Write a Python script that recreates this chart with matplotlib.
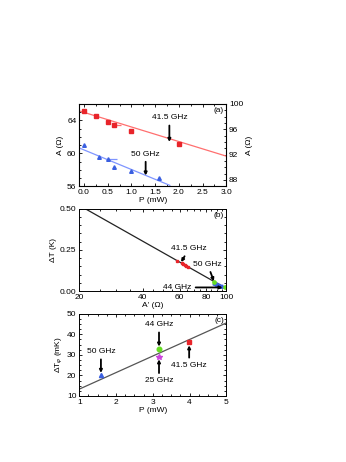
import matplotlib.pyplot as plt
import numpy as np
from matplotlib.ticker import MultipleLocator, FixedLocator, NullFormatter

plt.rcParams['font.family'] = ['Liberation Sans', 'DejaVu Sans']
plt.rcParams['font.size'] = 6
plt.rcParams['mathtext.fontset'] = 'custom'
plt.rcParams['mathtext.rm'] = 'Liberation Sans'
plt.rcParams['mathtext.it'] = 'Liberation Sans:italic'

# panel (a): A vs P
p_red = [0.0, 0.25, 0.5, 0.63, 1.0, 2.0]
a_red = [98.9, 98.1, 97.2, 96.6, 95.7, 93.7]      # right axis
p_red_err = [0, 0, 0, 0.16, 0, 0]
p_blue = [0.0, 0.31, 0.5, 0.63, 1.0, 1.59]
a_blue = [61.0, 59.6, 59.3, 58.3, 57.9, 56.95]    # left axis
p_blue_err = [0, 0, 0.19, 0, 0, 0]
fit_red_p = [-0.1, 3.0]
fit_red_a = [98.9, 91.75]
fit_blue_p = [-0.1, 1.81]
fit_blue_a = [60.65, 56.1]

# panel (b): dT vs A'
ap_red = [58.0, 61.5, 62.5, 63.5, 64.5, 65.5]
dt_red = [0.185, 0.168, 0.162, 0.156, 0.150, 0.145]
ap_blue = [87.5, 88.5, 89.5, 90.5, 91.5, 92.5, 93.5, 94.5, 95.5]
dt_blue = [0.052, 0.048, 0.045, 0.042, 0.039, 0.036, 0.033, 0.030, 0.028]
ap_green = [87.0, 99.0]
dt_green = [0.055, 0.022]
line_b_ap = [21.4, 100]
line_b_dt = [0.5, 0.016]

# panel (c): dT_phi vs P
p_c = [1.59, 3.17, 3.17, 3.99]
dtphi_c = [20.0, 32.6, 29.0, 36.0]
freq_c = ['50 GHz', '44 GHz', '25 GHz', '41.5 GHz']
line_c_p = [1, 5]
line_c_t = [13.3, 45.5]

RED = '#e8242a'
RED_L = '#ff6f6f'
BLUE = '#3a5fe0'
BLUE_L = '#7f95ff'
GREEN = '#66dd22'
MAG = '#cc44dd'

arr = dict(arrowstyle='-|>', color='k', lw=1.3, mutation_scale=4, shrinkA=1, shrinkB=0)

fig = plt.figure(figsize=(3.46, 4.62), dpi=100)
ax_a = fig.add_axes([0.229, 0.597, 0.425, 0.178])
ax_b = fig.add_axes([0.229, 0.370, 0.425, 0.178])
ax_c = fig.add_axes([0.229, 0.143, 0.425, 0.178])


def style(ax):
    ax.tick_params(which='both', direction='in', top=True, width=0.6, pad=2)
    ax.tick_params(which='major', length=2.5)
    ax.tick_params(which='minor', length=1.5)
    for s in ax.spines.values():
        s.set_linewidth(0.7)


# (a)
ax_a2 = ax_a.twinx()
ax_a.plot(fit_blue_p, fit_blue_a, color=BLUE_L, lw=0.9)
ax_a.errorbar(p_blue, a_blue, xerr=[[0] * len(p_blue), p_blue_err], fmt='^', ms=2.6,
              color=BLUE, ecolor=BLUE_L, elinewidth=0.9, capsize=0)
ax_a2.plot(fit_red_p, fit_red_a, color=RED_L, lw=0.9)
ax_a2.errorbar(p_red, a_red, xerr=[[0] * len(p_red), p_red_err], fmt='s', ms=2.4,
               color=RED, ecolor=RED_L, elinewidth=0.9, capsize=0)
ax_a.set_xlim(-0.1, 3.0)
ax_a.set_ylim(56, 66)
ax_a2.set_ylim(87, 100)
ax_a.set_xticks([0.0, 0.5, 1.0, 1.5, 2.0, 2.5, 3.0])
ax_a.set_xticklabels(['0.0', '0.5', '1.0', '1.5', '2.0', '2.5', '3.0'])
ax_a.xaxis.set_minor_locator(MultipleLocator(0.25))
ax_a.set_yticks([56, 60, 64])
ax_a.yaxis.set_minor_locator(MultipleLocator(1))
ax_a2.set_yticks([88, 92, 96, 100])
ax_a2.yaxis.set_minor_locator(MultipleLocator(1))
style(ax_a)
ax_a.tick_params(which='both', right=False)
ax_a2.tick_params(which='both', direction='in', width=0.6, pad=2)
ax_a2.tick_params(which='major', length=2.5)
ax_a2.tick_params(which='minor', length=1.5)
ax_a.set_xlabel('P (mW)', labelpad=1)
ax_a.set_ylabel('A (\u03a9)', labelpad=2)
ax_a2.set_ylabel('A (\u03a9)', labelpad=2)
ax_a2.annotate('41.5 GHz', xy=(1.8, 94.0), xytext=(1.8, 97.8), ha='center', va='center',
               arrowprops=arr)
ax_a.annotate('50 GHz', xy=(1.3, 57.3), xytext=(1.3, 59.9), ha='center', va='center',
              arrowprops=arr)
ax_a.text(0.985, 0.96, '(a)', transform=ax_a.transAxes, ha='right', va='top')

# (b)
ax_b.plot(line_b_ap, line_b_dt, color='#222222', lw=0.9)
ax_b.plot(ap_red, dt_red, 's', color=RED, ms=2.0)
ax_b.plot(ap_blue, dt_blue, '^', color=BLUE, ms=2.2)
ax_b.plot(ap_green, dt_green, 'o', color=GREEN, ms=2.4)
ax_b.set_xscale('log')
ax_b.set_xlim(20, 100)
ax_b.set_ylim(0, 0.5)
ax_b.xaxis.set_major_locator(FixedLocator([20, 40, 60, 80, 100]))
ax_b.xaxis.set_minor_locator(FixedLocator([25, 30, 35, 45, 50, 55, 65, 70, 75, 85, 90, 95]))
ax_b.xaxis.set_major_formatter(plt.FixedFormatter(['20', '40', '60', '80', '100']))
ax_b.xaxis.set_minor_formatter(NullFormatter())
ax_b.set_yticks([0.0, 0.25, 0.5])
ax_b.set_yticklabels(['0.00', '0.25', '0.50'])
ax_b.yaxis.set_minor_locator(MultipleLocator(0.05))
style(ax_b)
ax_b.tick_params(which='both', right=True)
ax_b.set_xlabel("A' (\u03a9)", labelpad=1)
ax_b.set_ylabel('\u0394T (K)', labelpad=2)
ax_b.annotate('41.5 GHz', xy=(61.0, 0.176), xytext=(66.5, 0.257), ha='center', va='center',
              arrowprops=arr)
ax_b.annotate('50 GHz', xy=(87.3, 0.060), xytext=(81.5, 0.162), ha='center', va='center',
              arrowprops=arr)
ax_b.annotate('44 GHz', xy=(96.0, 0.022), xytext=(58.5, 0.022), ha='center', va='center',
              arrowprops=arr)
ax_b.text(0.985, 0.96, '(b)', transform=ax_b.transAxes, ha='right', va='top')

# (c)
ax_c.plot(line_c_p, line_c_t, color='#555555', lw=0.9)
markers_c = ['^', 'o', '*', 's']
colors_c = [BLUE, GREEN, MAG, RED]
sizes_c = [3.0, 3.3, 4.0, 3.0]
for p, t, m, c, s in zip(p_c, dtphi_c, markers_c, colors_c, sizes_c):
    ax_c.plot(p, t, m, color=c, ms=s)
ax_c.annotate(freq_c[0], xy=(p_c[0], dtphi_c[0] + 1.2), xytext=(p_c[0], 31.5),
              ha='center', va='center', arrowprops=arr)
ax_c.annotate(freq_c[1], xy=(p_c[1], dtphi_c[1] + 1.4), xytext=(p_c[1], 44.6),
              ha='center', va='center', arrowprops=arr)
ax_c.annotate(freq_c[2], xy=(p_c[2], dtphi_c[2] - 1.2), xytext=(p_c[2], 17.4),
              ha='center', va='center', arrowprops=arr)
ax_c.annotate(freq_c[3], xy=(p_c[3], dtphi_c[3] - 1.4), xytext=(p_c[3], 24.9),
              ha='center', va='center', arrowprops=arr)
ax_c.set_xlim(1, 5)
ax_c.set_ylim(10, 50)
ax_c.set_xticks([1, 2, 3, 4, 5])
ax_c.xaxis.set_minor_locator(MultipleLocator(0.25))
ax_c.set_yticks([10, 20, 30, 40, 50])
ax_c.yaxis.set_minor_locator(MultipleLocator(2.5))
style(ax_c)
ax_c.tick_params(which='both', right=True)
ax_c.set_xlabel('P (mW)', labelpad=1)
ax_c.set_ylabel('$\\Delta$T$_{\\varphi}$ (mK)', labelpad=2)
ax_c.text(0.985, 0.96, '(c)', transform=ax_c.transAxes, ha='right', va='top')

fig.savefig('out.png', dpi=100)
